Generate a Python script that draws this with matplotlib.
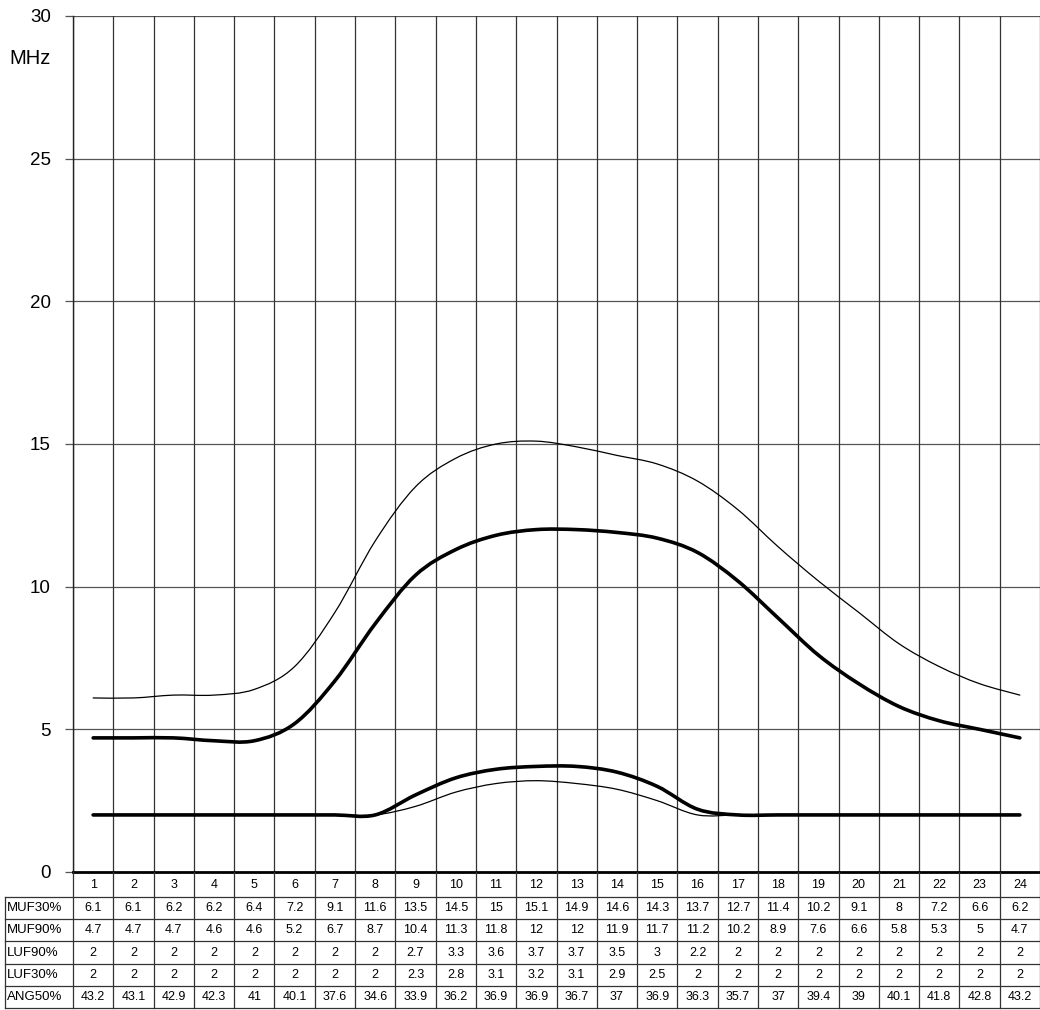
import numpy as np
import matplotlib
matplotlib.use('Agg')
import matplotlib.pyplot as plt
from matplotlib.path import Path
from matplotlib.patches import PathPatch

plt.rcParams['font.family'] = ['Liberation Sans', 'DejaVu Sans']

hours = list(range(1, 25))
muf30 = [6.1, 6.1, 6.2, 6.2, 6.4, 7.2, 9.1, 11.6, 13.5, 14.5, 15, 15.1,
         14.9, 14.6, 14.3, 13.7, 12.7, 11.4, 10.2, 9.1, 8, 7.2, 6.6, 6.2]
muf90 = [4.7, 4.7, 4.7, 4.6, 4.6, 5.2, 6.7, 8.7, 10.4, 11.3, 11.8, 12,
         12, 11.9, 11.7, 11.2, 10.2, 8.9, 7.6, 6.6, 5.8, 5.3, 5, 4.7]
luf90 = [2, 2, 2, 2, 2, 2, 2, 2, 2.7, 3.3, 3.6, 3.7,
         3.7, 3.5, 3, 2.2, 2, 2, 2, 2, 2, 2, 2, 2]
luf30 = [2, 2, 2, 2, 2, 2, 2, 2, 2.3, 2.8, 3.1, 3.2,
         3.1, 2.9, 2.5, 2, 2, 2, 2, 2, 2, 2, 2, 2]
ang50 = [43.2, 43.1, 42.9, 42.3, 41, 40.1, 37.6, 34.6, 33.9, 36.2, 36.9, 36.9,
         36.7, 37, 36.9, 36.3, 35.7, 37, 39.4, 39, 40.1, 41.8, 42.8, 43.2]

row_names = ['MUF30%', 'MUF90%', 'LUF90%', 'LUF30%', 'ANG50%']
rows = [muf30, muf90, luf90, luf30, ang50]


def fmt(v):
    return '%g' % v


def smooth_path(xs, ys):
    """Catmull-Rom through the points, as cubic bezier segments."""
    pts = np.column_stack([xs, ys]).astype(float)
    ext = np.vstack([pts[0], pts, pts[-1]])
    verts = [pts[0]]
    codes = [Path.MOVETO]
    for i in range(1, len(ext) - 2):
        p0, p1, p2, p3 = ext[i - 1], ext[i], ext[i + 1], ext[i + 2]
        verts += [p1 + (p2 - p0) / 6, p2 - (p3 - p1) / 6, p2]
        codes += [Path.CURVE4] * 3
    return Path(verts, codes)


W, H = 1040, 1010
fig = plt.figure(figsize=(W / 100, H / 100), dpi=100)

ax = fig.add_axes([73 / W, 1 - 872 / H, (1040 - 73) / W, (872 - 16) / H])
ax.set_xlim(0.5, 24.5)
ax.set_ylim(0, 30)
for y in range(5, 31, 5):
    ax.axhline(y, color='#555555', lw=0.9, zorder=1)
for x in np.arange(0.5, 25, 1):
    ax.axvline(x, color='#333333', lw=0.9, zorder=1)

for vals, lw in ((muf30, 0.9), (muf90, 2.6), (luf90, 2.6), (luf30, 0.9)):
    ax.add_patch(PathPatch(smooth_path(hours, vals), fill=False,
                           edgecolor='black', lw=lw, zorder=3,
                           capstyle='round', joinstyle='round'))

ax.set_xticks([])
ax.set_yticks(range(0, 31, 5))
ax.tick_params(axis='y', length=6, width=0.9, color='#555555',
               labelsize=13.5, pad=10)
for s in ('top', 'right'):
    ax.spines[s].set_visible(False)
ax.spines['left'].set_color('#222222')
ax.spines['left'].set_linewidth(1.0)
ax.spines['bottom'].set_color('black')
ax.spines['bottom'].set_linewidth(2.0)
ax.spines['bottom'].set_zorder(4)
fig.text(9 / W, 1 - 58 / H, 'MHz', fontsize=14.5, va='center', ha='left')

# table under the plot, columns aligned with the hour grid
px_per_unit = (1040 - 73) / 24
x_left = 0.5 - (73 - 5) / px_per_unit
tax = fig.add_axes([5 / W, 1 - 1008 / H, (1040 - 5) / W, (1008 - 872) / H])
tax.set_xlim(x_left, 24.5)
tax.set_ylim(136, 0)
tax.axis('off')
edges = [0, 25, 47.2, 69.4, 91.6, 113.8, 136]
lc = '#333333'
for y in edges[1:]:
    tax.plot([x_left, 24.5], [y, y], color=lc, lw=0.9, clip_on=False)
for x in np.arange(0.5, 25, 1):
    tax.plot([x, x], [0, 136], color=lc, lw=0.9, clip_on=False)
tax.plot([x_left, x_left], [25, 136], color=lc, lw=0.9, clip_on=False)

for h in hours:
    tax.text(h, (edges[0] + edges[1]) / 2 + 1, str(h), ha='center',
             va='center', fontsize=9)
for r, (name, vals) in enumerate(zip(row_names, rows)):
    yc = (edges[r + 1] + edges[r + 2]) / 2
    tax.text(x_left + 0.05, yc, name, ha='left', va='center', fontsize=9.5)
    for h, v in zip(hours, vals):
        tax.text(h, yc, fmt(v), ha='center', va='center', fontsize=9)

fig.savefig('out.png', dpi=100)
